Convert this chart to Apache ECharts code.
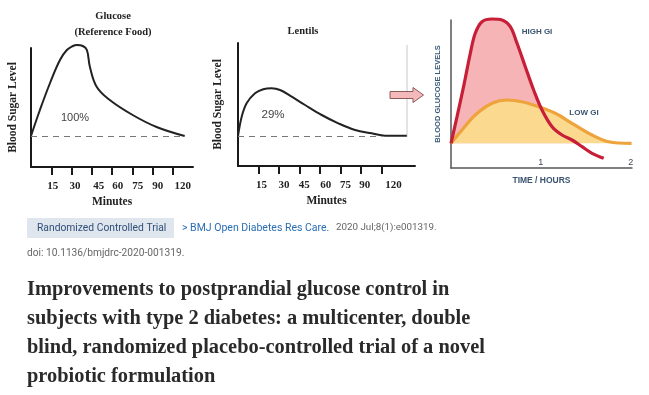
<!DOCTYPE html>
<html>
<head>
<meta charset="utf-8">
<script src="https://cdn.jsdelivr.net/npm/echarts@6/dist/echarts.min.js"></script>
<style>
html,body{margin:0;padding:0;background:#fff;}
#c{width:649px;height:395px;}
</style>
</head>
<body>
<div id="c"></div>
<script>
// ---------- data ----------
// x in tick-slot units (tick k = k-th labelled minute mark), y relative to fasting baseline
const tickLabels = ['15', '30', '45', '60', '75', '90', '120'];
const tickSlots = [1, 2, 3, 4, 5, 6, 7];
const glucoseX = [0, 0.44, 0.94, 1.43, 1.77, 2.07, 2.27, 2.56, 2.76, 2.91, 3.25, 3.89, 5.02, 6.2, 7.59];
const glucoseY = [0, 2.6, 5.3, 7.6, 8.6, 9.0, 9.1, 9.0, 8.6, 6.9, 4.9, 3.6, 2.1, 0.9, 0];
const lentilsX = [0, 0.18, 0.42, 0.83, 1.23, 1.64, 2.05, 2.62, 3.27, 4.08, 4.89, 5.71, 6.52, 7.17, 8.23];
const lentilsY = [0, 1.93, 3.27, 4.27, 4.67, 4.77, 4.6, 3.93, 3.1, 2.1, 1.27, 0.6, 0.27, 0.03, 0.03];
// hours
const highGiX = [0, 0.067, 0.14, 0.215, 0.27, 0.345, 0.457, 0.568, 0.66, 0.735, 0.827, 0.92, 1.013, 1.125, 1.236, 1.347, 1.459, 1.57, 1.70];
const highGiY = [0, 2.66, 5.66, 9.0, 11.0, 12.16, 12.43, 12.33, 11.66, 10.0, 7.66, 5.33, 3.33, 1.66, 0.83, 0.33, -0.34, -1.0, -1.5];
const lowGiX = [0, 0.122, 0.27, 0.457, 0.624, 0.79, 0.975, 1.161, 1.347, 1.57, 1.755, 2.01];
const lowGiY = [0, 1.33, 2.83, 4.0, 4.33, 4.16, 3.66, 3.0, 2.0, 0.83, 0.16, 0];
const hourTicks = [1, 2];

// ---------- layout helpers ----------
const glucoseLabelShift = [0.08, 0.17, 0.35, 0.29, 0.27, 0.26, 0.49];
const lentilsLabelShift = [0.15, 0.24, 0.23, 0.28, 0.24, 0.18, 0.58];

function pairs(xs, ys) { return xs.map((x, i) => [x, ys[i]]); }
function labelAxis(shift) {
  const pos = tickSlots.map((t, i) => +(t + shift[i]).toFixed(3));
  return {
    pos,
    fmt: v => { const i = pos.findIndex(p => Math.abs(p - v) < 1e-6); return i >= 0 ? tickLabels[i] : ''; }
  };
}
const gLab = labelAxis(glucoseLabelShift);
const lLab = labelAxis(lentilsLabelShift);

const serif = "'Liberation Serif', 'Times New Roman', serif";
const sans = "'Liberation Sans', Arial, sans-serif";
const ui = "Roboto, 'Noto Sans', sans-serif";

function minuteX(gridIndex, max, lab, nameGap, margin) {
  return {
    type: 'value', gridIndex, min: 0, max,
    name: 'Minutes', nameLocation: 'middle', nameGap,
    nameTextStyle: { fontFamily: serif, fontWeight: 'bold', fontSize: 11.5, color: '#222' },
    axisLine: { onZero: false, lineStyle: { color: '#1a1a1a', width: 2 } },
    axisTick: { show: true, customValues: tickSlots, length: 8, inside: false, lineStyle: { color: '#1a1a1a', width: 2 } },
    axisLabel: { customValues: lab.pos, formatter: lab.fmt, margin, fontFamily: serif, fontWeight: 'bold', fontSize: 11, color: '#222' },
    splitLine: { show: false }
  };
}
function sugarY(gridIndex, min, max, nameGap) {
  return {
    type: 'value', gridIndex, min, max,
    name: 'Blood Sugar Level', nameLocation: 'middle', nameGap, nameRotate: 90,
    nameTextStyle: { fontFamily: serif, fontWeight: 'bold', fontSize: 11.5, color: '#222' },
    axisLine: { show: true, onZero: false, lineStyle: { color: '#1a1a1a', width: 2 } },
    axisTick: { show: false }, axisLabel: { show: false }, splitLine: { show: false }
  };
}

const chart = echarts.init(document.getElementById('c'), null, { renderer: 'canvas' });
chart.setOption({
  animation: false,
  backgroundColor: '#ffffff',
  grid: [
    { left: 31, top: 48, width: 162, height: 119 },
    { left: 238, top: 43, width: 177, height: 123 },
    { left: 451, top: 20, width: 181, height: 148 }
  ],
  xAxis: [
    minuteX(0, 8, gLab, 29, 14),
    minuteX(1, 8.63, lLab, 29, 14),
    {
      type: 'value', gridIndex: 2, min: 0, max: 2.015,
      name: 'TIME / HOURS', nameLocation: 'middle', nameGap: 8,
      nameTextStyle: { fontFamily: sans, fontWeight: 'bold', fontSize: 8.5, color: '#3a5470' },
      axisLine: { onZero: false, lineStyle: { color: '#555', width: 1.5 } },
      axisTick: { show: false },
      axisLabel: { customValues: hourTicks, inside: true, margin: 1, fontFamily: sans, fontSize: 9, color: '#445' },
      splitLine: { show: false }
    }
  ],
  yAxis: [
    sugarY(0, -3.1, 8.8, 12),
    sugarY(1, -3.0, 9.3, 14),
    {
      type: 'value', gridIndex: 2, min: -2.47, max: 12.33,
      name: 'BLOOD GLUCOSE LEVELS', nameLocation: 'middle', nameGap: 9, nameRotate: 90,
      nameTextStyle: { fontFamily: sans, fontWeight: 'bold', fontSize: 7.5, color: '#3a5a7a' },
      axisLine: { show: true, onZero: false, lineStyle: { color: '#555', width: 1.5 } },
      axisTick: { show: false }, axisLabel: { show: false }, splitLine: { show: false }
    }
  ],
  series: [
    {
      type: 'line', xAxisIndex: 0, yAxisIndex: 0, data: pairs(glucoseX, glucoseY),
      smooth: 0.4, showSymbol: false, clip: false,
      lineStyle: { color: '#222', width: 2 },
      markLine: {
        symbol: 'none', silent: true, label: { show: false },
        lineStyle: { color: '#777', type: [6, 5], width: 1.2 },
        data: [[{ coord: [0, 0] }, { coord: [7.6, 0] }]]
      }
    },
    {
      type: 'line', xAxisIndex: 1, yAxisIndex: 1, data: pairs(lentilsX, lentilsY),
      smooth: 0.35, showSymbol: false, clip: false,
      lineStyle: { color: '#222', width: 2 },
      markLine: {
        symbol: 'none', silent: true, label: { show: false },
        lineStyle: { color: '#777', type: [6, 5], width: 1.2 },
        data: [[{ coord: [0, 0] }, { coord: [7.0, 0] }]]
      }
    },
    {
      name: 'High GI area', type: 'line', xAxisIndex: 2, yAxisIndex: 2,
      data: pairs(highGiX, highGiY.map(v => Math.max(v, 0))),
      smooth: 0.35, showSymbol: false, clip: false,
      lineStyle: { width: 0, color: '#f5b3b6' },
      areaStyle: { color: '#f6b4b7', opacity: 1, origin: 0 }
    },
    {
      name: 'Low GI', type: 'line', xAxisIndex: 2, yAxisIndex: 2, data: pairs(lowGiX, lowGiY),
      smooth: 0.35, showSymbol: false, clip: false,
      lineStyle: { color: '#eea33c', width: 3.2 },
      areaStyle: { color: '#fbd98f', opacity: 1, origin: 0 }
    },
    {
      name: 'High GI', type: 'line', xAxisIndex: 2, yAxisIndex: 2, data: pairs(highGiX, highGiY),
      smooth: 0.35, showSymbol: false, clip: false,
      lineStyle: { color: '#c71f37', width: 3.2 }
    }
  ],
  graphic: [
    { type: 'text', x: 113, y: 16, style: { text: 'Glucose', fontFamily: serif, fontWeight: 'bold', fontSize: 10.5, fill: '#222', align: 'center', verticalAlign: 'middle' } },
    { type: 'text', x: 113, y: 32, style: { text: '(Reference Food)', fontFamily: serif, fontWeight: 'bold', fontSize: 10.5, fill: '#222', align: 'center', verticalAlign: 'middle' } },
    { type: 'text', x: 303, y: 31, style: { text: 'Lentils', fontFamily: serif, fontWeight: 'bold', fontSize: 10.5, fill: '#222', align: 'center', verticalAlign: 'middle' } },
    { type: 'text', x: 75, y: 118, style: { text: '100%', fontFamily: sans, fontSize: 11, fill: '#444', align: 'center', verticalAlign: 'middle' } },
    { type: 'text', x: 273, y: 115, style: { text: '29%', fontFamily: sans, fontSize: 11.5, fill: '#444', align: 'center', verticalAlign: 'middle' } },
    { type: 'line', shape: { x1: 407, y1: 45, x2: 407, y2: 137 }, style: { stroke: '#c8c8c8', lineWidth: 1 } },
    { type: 'polygon', shape: { points: [[390, 91.5], [413, 91.5], [413, 87.5], [423.5, 95], [413, 102.5], [413, 98.5], [390, 98.5]] },
      style: { fill: '#f4b9bb', stroke: '#8d5a5a', lineWidth: 1 } },
    { type: 'text', x: 537, y: 32, style: { text: 'HIGH GI', fontFamily: sans, fontWeight: 'bold', fontSize: 8, fill: '#3a5470', align: 'center', verticalAlign: 'middle' } },
    { type: 'text', x: 584, y: 113, style: { text: 'LOW GI', fontFamily: sans, fontWeight: 'bold', fontSize: 8, fill: '#3a5470', align: 'center', verticalAlign: 'middle' } },
    { type: 'rect', shape: { x: 27, y: 218, width: 147, height: 20 }, style: { fill: '#dfe6ee' } },
    { type: 'text', x: 37, y: 228, style: { text: 'Randomized Controlled Trial', fontFamily: ui, fontSize: 10.3, fill: '#2f4e78', align: 'left', verticalAlign: 'middle' } },
    { type: 'text', x: 182, y: 228, style: { text: '> BMJ Open Diabetes Res Care.', fontFamily: ui, fontSize: 10.5, fill: '#2a6db5', align: 'left', verticalAlign: 'middle' } },
    { type: 'text', x: 336, y: 228, style: { text: '2020 Jul;8(1):e001319.', fontFamily: ui, fontSize: 9.8, fill: '#666', align: 'left', verticalAlign: 'middle' } },
    { type: 'text', x: 27, y: 253, style: { text: 'doi: 10.1136/bmjdrc-2020-001319.', fontFamily: ui, fontSize: 10.2, fill: '#666', align: 'left', verticalAlign: 'middle' } },
    { type: 'text', x: 27, y: 275.5, style: {
        text: 'Improvements to postprandial glucose control in\nsubjects with type 2 diabetes: a multicenter, double\nblind, randomized placebo-controlled trial of a novel\nprobiotic formulation',
        fontFamily: serif, fontWeight: 'bold', fontSize: 20.4, lineHeight: 29, fill: '#2a2a2a', align: 'left', verticalAlign: 'top' } }
  ]
});
</script>
</body>
</html>
